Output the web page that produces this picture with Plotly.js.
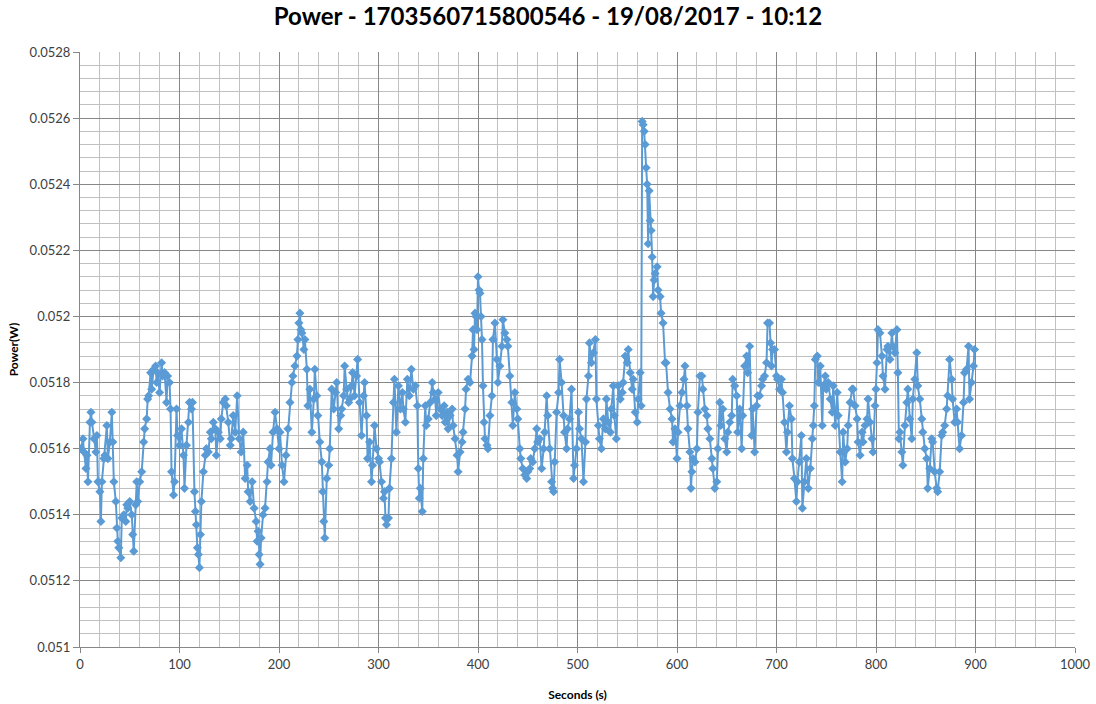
<!DOCTYPE html>
<html>
<head>
<meta charset="utf-8">
<script src="https://cdn.plot.ly/plotly-3.0.1.min.js"></script>
<style>html,body{margin:0;padding:0;background:#fff;}#chart{width:1096px;height:704px;}</style>
</head>
<body>
<div id="chart"></div>
<script>
const seconds = [1,3,4,6,7,8,10,11,12,14,16,17,18,20,21,22,24,25,27,28,30,32,33,34,36,37,38,39,41,42,44,46,47,48,50,52,53,54,56,57,58,60,62,64,65,67,68,69,71,72,74,76,77,78,80,82,83,85,87,88,90,91,92,94,95,97,98,100,102,104,105,107,109,110,112,113,115,116,117,118,119,120,121,122,124,126,127,129,131,132,134,136,137,139,141,142,144,146,147,149,151,152,154,156,158,
160,162,164,166,168,169,171,173,175,177,178,179,180,181,182,184,186,188,189,191,192,194,196,198,200,201,203,205,207,209,211,213,214,216,218,219,220,221,222,223,225,226,228,229,231,233,235,236,238,239,241,243,244,245,246,248,250,251,253,255,257,258,260,262,263,265,266,268,270,271,273,274,276,278,279,281,283,285,286,288,289,291,293,294,296,298,
300,301,303,305,306,307,308,310,311,313,315,316,318,320,322,324,325,327,329,331,333,335,337,339,340,341,342,344,345,347,348,350,352,354,355,357,358,360,362,364,366,367,369,370,372,374,375,377,379,380,382,384,385,387,388,390,392,394,395,396,397,398,399,400,401,402,403,404,405,406,407,409,410,412,414,415,417,419,420,422,424,425,427,429,430,432,434,435,437,439,440,442,443,445,447,449,
450,452,453,455,457,459,460,462,464,466,467,469,470,472,474,475,476,477,479,481,482,484,486,487,489,490,492,494,496,497,499,501,502,504,506,508,509,511,512,514,516,518,519,521,522,524,526,528,529,531,533,534,536,537,539,541,543,545,546,548,550,551,553,555,556,558,560,561,563,564,565,566,567,568,569,570,571,572,573,574,575,576,577,578,580,581,583,584,586,588,589,591,593,595,596,598,
600,601,603,605,607,608,610,611,613,614,615,616,618,620,621,623,625,626,628,630,631,633,635,636,638,640,641,643,644,646,648,650,651,653,655,656,658,660,661,663,665,666,668,670,671,673,675,676,678,680,681,683,685,686,688,690,691,693,694,695,696,698,700,701,703,705,706,708,710,711,713,715,716,718,720,721,723,725,726,728,730,732,734,736,737,738,739,741,742,744,746,747,749,
750,752,754,756,757,759,761,762,764,766,767,769,771,772,774,776,777,779,781,782,784,786,787,789,791,792,794,796,797,799,800,801,802,804,806,807,809,811,812,814,816,817,819,821,822,823,824,826,827,829,831,832,834,836,837,839,841,842,844,846,847,849,851,852,854,856,857,859,861,862,864,866,867,869,871,872,874,876,877,879,881,882,884,886,888,889,891,893,894,896,898,899];

const power = [0.05160,0.05163,0.05159,0.05154,0.05158,0.05150,0.05168,0.05171,0.05168,0.05163,0.05159,0.05164,0.05150,0.05147,0.05138,0.05150,0.05157,0.05158,0.05167,0.05157,0.05162,0.05171,0.05162,0.05150,0.05144,0.05136,0.05132,0.05130,0.05127,0.05139,0.05140,0.05138,0.05143,0.05142,0.05144,0.05140,0.05134,0.05129,0.05143,0.05150,0.05144,0.05150,0.05153,0.05162,0.05166,0.05169,0.05175,0.05176,0.05183,0.05178,0.05184,0.05185,0.05180,0.05183,0.05177,0.05186,0.05182,0.05183,0.05174,0.05182,0.05180,0.05172,0.05153,0.05146,0.05150,0.05172,0.05164,0.05161,0.05166,0.05158,0.05148,0.05161,0.05168,0.05174,0.05172,0.05174,0.05147,0.05141,0.05137,0.05130,0.05128,0.05124,0.05134,0.05144,0.05153,0.05158,0.05160,0.05159,0.05165,0.05163,0.05168,0.05166,0.05158,0.05165,0.05163,0.05169,0.05174,0.05175,0.05173,0.05168,0.05161,0.05163,0.05170,0.05165,0.05176,
0.05163,0.05159,0.05165,0.05151,0.05155,0.05147,0.05144,0.05150,0.05142,0.05138,0.05132,0.05135,0.05128,0.05125,0.05133,0.05140,0.05142,0.05150,0.05156,0.05160,0.05155,0.05165,0.05171,0.05166,0.05160,0.05165,0.05155,0.05150,0.05158,0.05166,0.05174,0.05180,0.05182,0.05185,0.05188,0.05193,0.05198,0.05201,0.05196,0.05195,0.05190,0.05193,0.05184,0.05173,0.05178,0.05165,0.05175,0.05184,0.05176,0.05170,0.05162,0.05156,0.05147,0.05138,0.05133,0.05151,0.05155,0.05160,0.05178,0.05172,0.05177,0.05180,0.05166,0.05170,0.05172,0.05176,0.05185,0.05178,0.05174,0.05175,0.05179,0.05183,0.05176,0.05182,0.05187,0.05174,0.05164,0.05176,0.05180,0.05170,0.05157,0.05162,0.05150,0.05155,0.05167,0.05160,
0.05157,0.05156,0.05150,0.05145,0.05147,0.05139,0.05137,0.05139,0.05148,0.05157,0.05174,0.05181,0.05165,0.05179,0.05172,0.05177,0.05172,0.05168,0.05181,0.05176,0.05184,0.05178,0.05179,0.05173,0.05154,0.05145,0.05148,0.05141,0.05157,0.05173,0.05167,0.05169,0.05174,0.05180,0.05177,0.05175,0.05170,0.05177,0.05172,0.05170,0.05173,0.05168,0.05171,0.05166,0.05170,0.05172,0.05167,0.05163,0.05158,0.05153,0.05159,0.05162,0.05165,0.05172,0.05178,0.05181,0.05180,0.05188,0.05196,0.05190,0.05201,0.05200,0.05196,0.05212,0.05208,0.05207,0.05200,0.05193,0.05179,0.05168,0.05163,0.05161,0.05160,0.05170,0.05176,0.05193,0.05198,0.05187,0.05180,0.05185,0.05191,0.05199,0.05195,0.05193,0.05191,0.05182,0.05174,0.05167,0.05177,0.05172,0.05169,0.05160,0.05157,0.05154,0.05152,0.05151,
0.05153,0.05154,0.05157,0.05156,0.05160,0.05166,0.05162,0.05163,0.05154,0.05160,0.05165,0.05176,0.05170,0.05160,0.05150,0.05148,0.05147,0.05156,0.05171,0.05177,0.05187,0.05180,0.05170,0.05165,0.05160,0.05166,0.05169,0.05178,0.05151,0.05155,0.05160,0.05171,0.05166,0.05163,0.05150,0.05162,0.05175,0.05182,0.05192,0.05186,0.05189,0.05193,0.05175,0.05167,0.05163,0.05160,0.05169,0.05166,0.05175,0.05168,0.05165,0.05172,0.05179,0.05170,0.05163,0.05179,0.05175,0.05177,0.05180,0.05188,0.05186,0.05190,0.05183,0.05178,0.05181,0.05171,0.05168,0.05175,0.05183,0.05173,0.05259,0.05258,0.05256,0.05252,0.05245,0.05240,0.05222,0.05238,0.05229,0.05226,0.05218,0.05206,0.05211,0.05213,0.05215,0.05208,0.05206,0.05201,0.05198,0.05186,0.05186,0.05177,0.05172,0.05169,0.05162,0.05166,
0.05157,0.05165,0.05173,0.05177,0.05181,0.05185,0.05173,0.05166,0.05159,0.05148,0.05153,0.05157,0.05156,0.05160,0.05171,0.05182,0.05182,0.05178,0.05172,0.05170,0.05166,0.05163,0.05157,0.05154,0.05148,0.05150,0.05160,0.05174,0.05167,0.05172,0.05163,0.05159,0.05165,0.05168,0.05170,0.05181,0.05179,0.05176,0.05165,0.05172,0.05160,0.05170,0.05185,0.05188,0.05183,0.05191,0.05164,0.05172,0.05159,0.05173,0.05176,0.05176,0.05179,0.05181,0.05182,0.05186,0.05198,0.05198,0.05192,0.05185,0.05190,0.05190,0.05182,0.05181,0.05178,0.05181,0.05177,0.05168,0.05159,0.05165,0.05173,0.05169,0.05157,0.05151,0.05144,0.05150,0.05156,0.05164,0.05142,0.05150,0.05157,0.05148,0.05154,0.05163,0.05167,0.05173,0.05187,0.05188,0.05180,0.05185,0.05167,0.05179,0.05182,
0.05178,0.05180,0.05175,0.05171,0.05179,0.05167,0.05177,0.05170,0.05159,0.05150,0.05165,0.05156,0.05160,0.05167,0.05174,0.05178,0.05178,0.05173,0.05169,0.05162,0.05158,0.05165,0.05162,0.05167,0.05169,0.05175,0.05168,0.05163,0.05159,0.05173,0.05178,0.05186,0.05196,0.05195,0.05188,0.05182,0.05178,0.05190,0.05191,0.05187,0.05195,0.05191,0.05189,0.05196,0.05183,0.05163,0.05165,0.05159,0.05155,0.05167,0.05174,0.05178,0.05169,0.05163,0.05175,0.05181,0.05189,0.05179,0.05175,0.05169,0.05165,0.05160,0.05157,0.05148,0.05154,0.05163,0.05162,0.05153,0.05148,0.05147,0.05153,0.05164,0.05165,0.05167,0.05172,0.05176,0.05187,0.05181,0.05175,0.05168,0.05172,0.05168,0.05160,0.05164,0.05174,0.05183,0.05184,0.05191,0.05175,0.05180,0.05185,0.05190];

const chartTitle = 'Power - 1703560715800546 - 19/08/2017 - 10:12';
const xTitle = 'Seconds (s)';
const yTitle = 'Power(W)';

const trace = {
  x: seconds, y: power, type: 'scatter', mode: 'lines+markers',
  line: {color: '#5B9BD5', width: 2},
  marker: {symbol: 'diamond', size: 7, color: '#5B9BD5'},
  hoverinfo: 'x+y'
};

const axisFont = {family: 'Lato, "Open Sans", sans-serif', size: 13, color: '#404040'};

const layout = {
  width: 1096, height: 704,
  margin: {l: 80, r: 21, t: 52, b: 57},
  paper_bgcolor: '#ffffff', plot_bgcolor: '#ffffff',
  showlegend: false,
  title: {text: chartTitle, x: 0.5, xref: 'container', y: 0.977, yref: 'container', yanchor: 'middle',
          font: {family: 'Lato, "Open Sans", sans-serif', size: 24, color: '#000000', weight: 'bold'}},
  xaxis: {
    range: [0, 1000], dtick: 100, tick0: 0,
    showgrid: true, gridcolor: '#878787', gridwidth: 1,
    minor: {dtick: 20, showgrid: true, gridcolor: '#C0C0C0', gridwidth: 1},
    showline: true, linecolor: '#878787', linewidth: 1,
    zeroline: false, ticks: 'outside', ticklen: 5, tickcolor: '#878787', tickfont: axisFont,
    title: {text: xTitle, font: {family: 'Lato, "Open Sans", sans-serif', size: 12, color: '#000000', weight: 'bold'}, standoff: 20}
  },
  yaxis: {
    range: [0.051, 0.0528], dtick: 0.0002, tick0: 0.051,
    showgrid: true, gridcolor: '#878787', gridwidth: 1,
    minor: {dtick: 0.00004, showgrid: true, gridcolor: '#C0C0C0', gridwidth: 1},
    showline: true, linecolor: '#878787', linewidth: 1,
    zeroline: false, ticks: 'outside', ticklen: 6, tickcolor: '#878787', tickfont: axisFont,
    title: {text: yTitle, font: {family: 'Lato, "Open Sans", sans-serif', size: 12, color: '#000000', weight: 'bold'}, standoff: 8}
  }
};

Plotly.newPlot('chart', [trace], layout, {displayModeBar: false, responsive: false});
</script>
</body>
</html>
